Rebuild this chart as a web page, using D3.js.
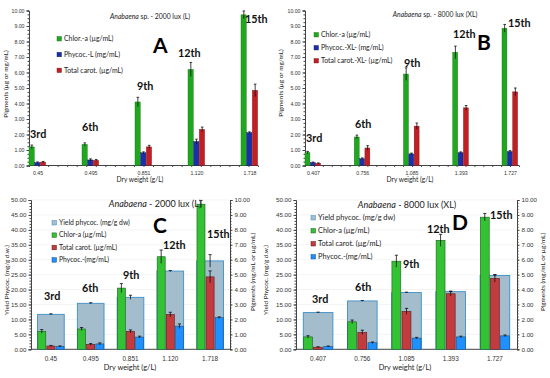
<!DOCTYPE html>
<html>
<head>
<meta charset="utf-8">
<script src="https://cdn.jsdelivr.net/npm/d3@7"></script>
<style>
  body { margin: 0; background: #fff; }
  svg { font-family: Lato, "Open Sans", sans-serif; }
</style>
</head>
<body>
<div id="chart"></div>
<script>
/* DATA */
const stages = ["3rd", "6th", "9th", "12th", "15th"];
const dryL = ["0.45", "0.495", "0.851", "1.120", "1.718"];
const dryXL = ["0.407", "0.756", "1.085", "1.393", "1.727"];

// 2000 lux (L)
const chlorL = [1.2, 1.36, 4.1, 6.2, 9.72];
const chlorLErr = [0.12, 0.1, 0.3, 0.45, 0.25];
const phycL = [0.19, 0.36, 0.82, 1.55, 2.12];
const phycLErr = [0.04, 0.07, 0.06, 0.15, 0.05];
const carotL = [0.22, 0.33, 1.2, 2.33, 4.85];
const carotLErr = [0.04, 0.06, 0.1, 0.15, 0.4];
const yieldL = [11.7, 15.4, 17.4, 26.2, 29.6];
const yieldLErr = [0.2, 0.2, 0.7, 0.2, 2.1];

// 8000 lux (XL)
const chlorXL = [0.83, 1.84, 5.9, 7.3, 8.85];
const chlorXLErr = [0.08, 0.12, 0.4, 0.4, 0.25];
const phycXL = [0.19, 0.44, 0.75, 0.83, 0.9];
const phycXLErr = [0.03, 0.05, 0.05, 0.05, 0.06];
const carotXL = [0.14, 1.13, 2.54, 3.72, 4.75];
const carotXLErr = [0.03, 0.15, 0.2, 0.15, 0.25];
const yieldXL = [12.3, 16.2, 19.0, 19.3, 24.7];
const yieldXLErr = [0.15, 0.15, 0.15, 0.2, 0.25];

const pigTicks = [0, 1, 2, 3, 4, 5, 6, 7, 8, 9, 10];
const yieldTicks = [0, 5, 10, 15, 20, 25, 30, 35, 40, 45, 50];

/* SVG */
const width = 550, height = 378;
const svg = d3.select("#chart").append("svg")
  .attr("width", width).attr("height", height);

const fmt = d3.format(".2f");

function errBar(g, cx, y, v, e, cap) {
  g.append("line").attr("x1", cx).attr("x2", cx)
    .attr("y1", y(v - e)).attr("y2", y(v + e))
    .attr("stroke", "#111").attr("stroke-width", 0.8);
  g.append("line").attr("x1", cx - cap).attr("x2", cx + cap)
    .attr("y1", y(v + e)).attr("y2", y(v + e))
    .attr("stroke", "#111").attr("stroke-width", 0.8);
}

function styleAxis(a, fs) {
  a.select(".domain").attr("stroke", "#444");
  a.selectAll(".tick line").attr("stroke", "#444");
  a.selectAll("text").attr("fill", "#333").style("font-size", fs + "px");
}

function title(x, y, fs, rest) {
  const t = svg.append("text").attr("x", x).attr("y", y)
    .attr("text-anchor", "middle").style("font-size", fs + "px").attr("fill", "#222");
  t.append("tspan").style("font-style", "italic").text("Anabaena");
  t.append("tspan").text(rest);
}

/* TOP PANELS (A, B) */
function topPanel(p) {
  const g = svg.append("g");
  const y = d3.scaleLinear().domain([0, 10]).range([165.5, 10.5]);
  const x = d3.scalePoint().domain(p.cats).range(p.span);
  const sub = d3.scaleBand().domain(["a", "b", "c"]).range([-p.gw / 2, p.gw / 2]);

  // y axis + minor ticks
  const ya = g.append("g").attr("transform", `translate(${p.x0},0)`)
    .call(d3.axisLeft(y).tickValues(pigTicks).tickFormat(fmt).tickSize(2.5).tickPadding(2));
  styleAxis(ya, 5.2);
  g.append("g").attr("transform", `translate(${p.x0},0)`)
    .call(d3.axisLeft(y).tickValues(d3.range(0, 10.01, 0.25)).tickFormat("").tickSize(1.5))
    .call(a => a.select(".domain").remove())
    .selectAll("line").attr("stroke", "#444");

  // x axis
  const xa = g.append("g").attr("transform", `translate(0,${y(0)})`)
    .call(d3.axisBottom(x).tickSize(0).tickPadding(6));
  xa.select(".domain").attr("d", `M${p.x0},0H${p.x1}`);
  styleAxis(xa, 5.2);
  const xm = d3.scaleLinear().domain([0, 24]).range([p.x0, p.x1]);
  g.append("g").attr("transform", `translate(0,${y(0)})`)
    .call(d3.axisBottom(xm).ticks(24).tickFormat("").tickSize(1.5))
    .call(a => a.select(".domain").remove())
    .selectAll("line").attr("stroke", "#444");

  // bars
  const series = [
    { key: "a", vals: p.chl, err: p.chlErr, fill: "#1fa81f", stroke: "#137013" },
    { key: "b", vals: p.phy, err: p.phyErr, fill: "#1c2fa6", stroke: "#0f1a66" },
    { key: "c", vals: p.car, err: p.carErr, fill: "#c21f24", stroke: "#7d1014" }
  ];
  series.forEach(s => {
    g.selectAll(null).data(p.cats).join("rect")
      .attr("x", d => x(d) + sub(s.key))
      .attr("width", sub.bandwidth() - 0.4)
      .attr("y", (d, i) => y(s.vals[i]))
      .attr("height", (d, i) => y(0) - y(s.vals[i]))
      .attr("fill", s.fill).attr("stroke", s.stroke).attr("stroke-width", 0.4);
    p.cats.forEach((d, i) => errBar(g, x(d) + sub(s.key) + sub.bandwidth() / 2, y, s.vals[i], s.err[i], 1.3));
  });

  // stage labels
  stages.forEach((s, i) => {
    g.append("text").attr("x", p.stagePos[i][0]).attr("y", p.stagePos[i][1])
      .style("font-size", "10.8px").style("font-weight", "bold").attr("fill", "#111").text(s);
  });

  // legend
  p.legend.forEach((t, i) => {
    const ly = p.legY + i * p.legStep;
    g.append("rect").attr("x", p.legX).attr("y", ly - 3.5).attr("width", 4.5).attr("height", 4.5)
      .attr("fill", series[i].fill).attr("stroke", series[i].stroke).attr("stroke-width", 0.4);
    g.append("text").attr("x", p.legX + 7).attr("y", ly + 1)
      .style("font-size", "6.9px").attr("fill", "#222").text(t);
  });

  // panel letter, titles
  g.append("text").attr("x", p.letter[0]).attr("y", p.letter[1])
    .style("font-size", "21px").style("font-weight", "bold").attr("fill", "#000").text(p.name);
  title(p.title[0], p.title[1], 6.8, p.titleText);
  g.append("text").attr("transform", `translate(${p.yLab[0]},${p.yLab[1]}) rotate(-90)`)
    .attr("text-anchor", "middle").style("font-size", "6.4px").attr("fill", "#222")
    .text("Pigments (µg or mg/mL)");
  g.append("text").attr("x", p.xLab[0]).attr("y", p.xLab[1]).attr("text-anchor", "middle")
    .style("font-size", "6.6px").attr("fill", "#222").text("Dry weight (g/L)");
}

/* BOTTOM PANELS (C, D) */
function bottomPanel(p) {
  const g = svg.append("g");
  const yl = d3.scaleLinear().domain([0, 50]).range([349.3, 200]);
  const yr = d3.scaleLinear().domain([0, 10]).range([349.3, 200]);
  const x = d3.scaleBand().domain(p.cats).range([p.x0, p.x1]);
  const bw = x.bandwidth();
  const yw = bw * 0.67, cw = bw * 0.66;
  const sub = d3.scaleBand().domain(["chl", "car", "phy"]).range([-cw / 2, cw / 2]).paddingInner(0.12);

  // gridlines
  g.append("g").selectAll("line").data(yieldTicks.slice(1)).join("line")
    .attr("x1", p.x0).attr("x2", p.x1).attr("y1", d => yl(d)).attr("y2", d => yl(d))
    .attr("stroke", "#ececec").attr("stroke-width", 0.6);

  // axes
  const la = g.append("g").attr("transform", `translate(${p.x0},0)`)
    .call(d3.axisLeft(yl).tickValues(yieldTicks).tickFormat(fmt).tickSize(2.5).tickPadding(2));
  styleAxis(la, 6.2);
  g.append("g").attr("transform", `translate(${p.x0},0)`)
    .call(d3.axisLeft(yl).tickValues(d3.range(0, 50.01, 1)).tickFormat("").tickSize(1.5))
    .call(a => a.select(".domain").remove()).selectAll("line").attr("stroke", "#444");
  const ra = g.append("g").attr("transform", `translate(${p.x1},0)`)
    .call(d3.axisRight(yr).tickValues(pigTicks).tickFormat(fmt).tickSize(2.5).tickPadding(2));
  styleAxis(ra, 6.2);
  g.append("g").attr("transform", `translate(${p.x1},0)`)
    .call(d3.axisRight(yr).tickValues(d3.range(0, 10.01, 0.2)).tickFormat("").tickSize(1.5))
    .call(a => a.select(".domain").remove()).selectAll("line").attr("stroke", "#444");
  const xa = g.append("g").attr("transform", `translate(0,${yl(0)})`)
    .call(d3.axisBottom(x).tickSize(0).tickPadding(7));
  styleAxis(xa, 6.4);
  xa.select(".domain").attr("d", `M${p.x0},0H${p.x1}`);

  // yield bars (left axis)
  g.selectAll(null).data(p.cats).join("rect")
    .attr("x", d => x(d) + bw / 2 - yw / 2).attr("width", yw)
    .attr("y", (d, i) => yl(p.yld[i])).attr("height", (d, i) => yl(0) - yl(p.yld[i]))
    .attr("fill", "#a3bdcc").attr("stroke", "#3d8fc8").attr("stroke-width", 0.9);
  p.cats.forEach((d, i) => errBar(g, x(d) + bw / 2, yl, p.yld[i], p.yldErr[i], 1.6));

  // pigment bars (right axis)
  const series = [
    { key: "chl", vals: p.chl, err: p.chlErr, fill: "#33c233", stroke: "#1d5f1d" },
    { key: "car", vals: p.car, err: p.carErr, fill: "#c23b3e", stroke: "#5e1a1c" },
    { key: "phy", vals: p.phy, err: p.phyErr, fill: "#1e90ff", stroke: "#16508a" }
  ];
  series.forEach(s => {
    g.selectAll(null).data(p.cats).join("rect")
      .attr("x", d => x(d) + bw / 2 + sub(s.key)).attr("width", sub.bandwidth())
      .attr("y", (d, i) => yr(s.vals[i])).attr("height", (d, i) => yr(0) - yr(s.vals[i]))
      .attr("fill", s.fill).attr("stroke", s.stroke).attr("stroke-width", 0.6);
    p.cats.forEach((d, i) => errBar(g, x(d) + bw / 2 + sub(s.key) + sub.bandwidth() / 2, yr, s.vals[i], s.err[i], 1.6));
  });

  // stage labels
  stages.forEach((s, i) => {
    g.append("text").attr("x", p.stagePos[i][0]).attr("y", p.stagePos[i][1])
      .style("font-size", "10.8px").style("font-weight", "bold").attr("fill", "#111").text(s);
  });

  // legend
  const legFill = [["#a3bdcc", "#3d8fc8"], [series[0].fill, series[0].stroke], [series[1].fill, series[1].stroke], [series[2].fill, series[2].stroke]];
  p.legend.forEach((t, i) => {
    const ly = p.legY + i * p.legStep;
    g.append("rect").attr("x", p.legX).attr("y", ly - 3.5).attr("width", 4.5).attr("height", 4.5)
      .attr("fill", legFill[i][0]).attr("stroke", legFill[i][1]).attr("stroke-width", 0.5);
    g.append("text").attr("x", p.legX + 7).attr("y", ly + 1)
      .style("font-size", p.legFs + "px").attr("fill", "#222").text(t);
  });

  g.append("text").attr("x", p.letter[0]).attr("y", p.letter[1])
    .style("font-size", "21px").style("font-weight", "bold").attr("fill", "#000").text(p.name);
  title(p.title[0], p.title[1], 9, p.titleText);
  g.append("text").attr("transform", `translate(${p.lLab[0]},${p.lLab[1]}) rotate(-90)`)
    .attr("text-anchor", "middle").style("font-size", "6.4px").attr("fill", "#222")
    .text("Yield Phycoc. (mg/g d.w.)");
  g.append("text").attr("transform", `translate(${p.rLab[0]},${p.rLab[1]}) rotate(-90)`)
    .attr("text-anchor", "middle").style("font-size", "6.4px").attr("fill", "#222")
    .text("Pigments (mg/mL or µg/mL)");
  g.append("text").attr("x", p.xLab[0]).attr("y", p.xLab[1]).attr("text-anchor", "middle")
    .style("font-size", "7.4px").attr("fill", "#222").text("Dry weight (g/L)");
}

topPanel({
  name: "A", cats: dryL, x0: 29, x1: 258, span: [37.5, 249.5], gw: 17,
  chl: chlorL, chlErr: chlorLErr, phy: phycL, phyErr: phycLErr, car: carotL, carErr: carotLErr,
  stagePos: [[30, 138], [82, 131], [137, 90], [178, 57], [245, 23]],
  legend: ["Chlor.-a (µg/mL)", "Phycoc.-L (mg/mL)", "Total carot. (µg/mL)"],
  legX: 57, legY: 40, legStep: 15.8,
  letter: [153, 53], title: [150, 19], titleText: " sp. - 2000 lux (L)",
  yLab: [8, 84], xLab: [140, 182]
});

topPanel({
  name: "B", cats: dryXL, x0: 305, x1: 519, span: [313, 510], gw: 16,
  chl: chlorXL, chlErr: chlorXLErr, phy: phycXL, phyErr: phycXLErr, car: carotXL, carErr: carotXLErr,
  stagePos: [[306, 142], [355, 128], [404, 67], [453, 38], [508, 27]],
  legend: ["Chlor.-a (µg/mL)", "Phycoc.-XL- (mg/mL)", "Total carot.-XL- (µg/mL)"],
  legX: 314, legY: 36, legStep: 13,
  letter: [477, 50], title: [435, 17], titleText: " sp. - 8000 lux (XL)",
  yLab: [283, 83], xLab: [410, 182]
});

bottomPanel({
  name: "C", cats: dryL, x0: 31, x1: 230,
  chl: chlorL, chlErr: chlorLErr, phy: phycL, phyErr: phycLErr, car: carotL, carErr: carotLErr,
  yld: yieldL, yldErr: yieldLErr,
  stagePos: [[44, 300], [82, 292], [123, 279], [163, 249], [207, 238]],
  legend: ["Yield phycoc. (mg/g dw)", "Chlor-a (µg/mL)", "Total carot. (µg/mL)", "Phycoc.-(mg/mL)"],
  legX: 52, legY: 224, legStep: 12.4, legFs: 6.8,
  letter: [153, 233], title: [155, 207], titleText: " - 2000 lux (L)",
  lLab: [9, 280], rLab: [255, 272], xLab: [130, 370]
});

bottomPanel({
  name: "D", cats: dryXL, x0: 296, x1: 517,
  chl: chlorXL, chlErr: chlorXLErr, phy: phycXL, phyErr: phycXLErr, car: carotXL, carErr: carotXLErr,
  yld: yieldXL, yldErr: yieldXLErr,
  stagePos: [[312, 303], [355, 291], [403, 268], [427, 233], [490, 219]],
  legend: ["Yield phycoc. (mg/g dw)", "Chlor-a (µg/mL)", "Total carot. (µg/mL)", "Phycoc.-(mg/mL)"],
  legX: 311, legY: 219, legStep: 13, legFs: 7.4,
  letter: [452, 230], title: [407, 208], titleText: " - 8000 lux (XL)",
  lLab: [268, 280], rLab: [545, 272], xLab: [405, 370]
});
</script>
</body>
</html>
